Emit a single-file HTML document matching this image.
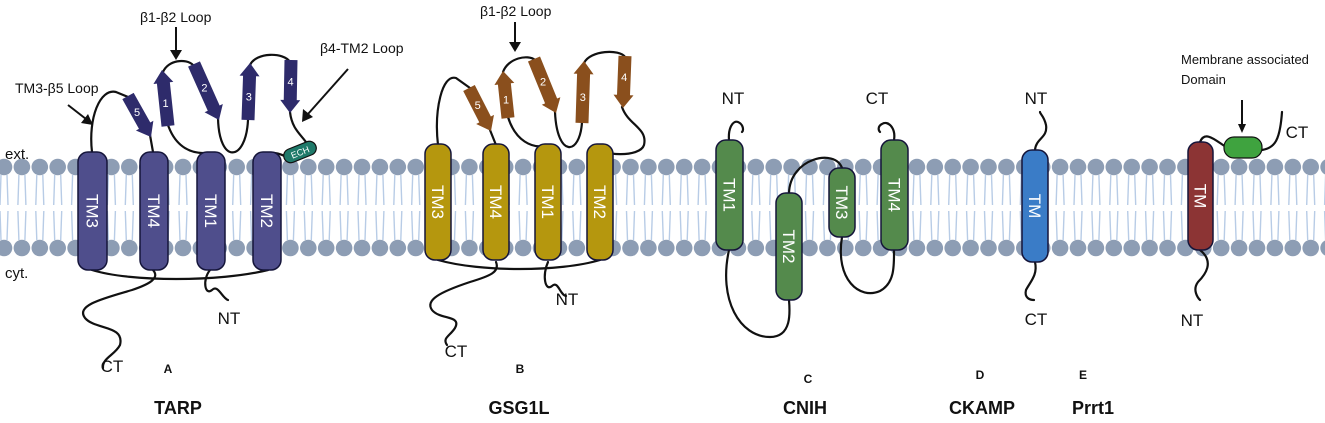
<!DOCTYPE html>
<html><head><meta charset="utf-8"><style>
html,body{margin:0;padding:0;background:#fff;}
svg{display:block;font-family:"Liberation Sans",sans-serif;}
</style></head><body>
<svg id="s" width="1325" height="423" viewBox="0 0 1325 423" xmlns="http://www.w3.org/2000/svg">
<g id="mem"></g>
<g fill="none" stroke="#111" stroke-width="2.2" stroke-linecap="round">
<path d="M92,152 C88,118 100,88 116,92 L128,97"/>
<path d="M150,135 L153,152"/>
<path d="M168,125 C176,148 192,154 208,153"/>
<path d="M163,72 C168,60 186,58 193,65"/>
<path d="M218,118 C219,165 246,162 248,120"/>
<path d="M250,65 C256,52 284,52 290,62"/>
<path d="M290,112 C292,130 302,135 308,145"/>
<path d="M268,153 C274,152 282,154 288,158"/>
<path d="M92,270 C130,282 220,282 268,270"/>
<path d="M153,270 C160,278 150,284 132,290 C105,298 75,305 85,318 C95,330 125,325 120,345 C115,355 102,358 103,368"/>
<path d="M210,270 C202,280 205,296 212,290 C218,284 222,298 228,300"/>
<path d="M438,145 C434,110 442,74 456,78 L470,88"/>
<path d="M490,130 L496,145"/>
<path d="M508,117 C515,140 532,150 548,145"/>
<path d="M503,72 C508,58 528,54 535,60"/>
<path d="M555,112 C557,158 580,156 582,122"/>
<path d="M584,63 C590,50 620,49 625,57"/>
<path d="M622,107 C628,125 648,128 644,145 C640,158 600,156 596,146"/>
<path d="M438,260 C480,272 560,272 600,260"/>
<path d="M496,262 C500,272 490,276 470,282 C440,292 425,300 432,310 C440,320 462,315 455,328 C450,336 442,338 447,345"/>
<path d="M548,262 C542,275 545,292 552,286 C558,280 560,295 566,296"/>
<path d="M729,140 C728,128 733,120 738,122 C743,124 744,130 742,132"/>
<path d="M729,250 C718,300 740,337 770,337 C792,337 790,312 789,300"/>
<path d="M789,193 C790,158 835,148 842,168"/>
<path d="M842,237 C835,280 860,300 880,291 C895,283 894,265 894,250"/>
<path d="M894,140 C896,128 888,120 882,124 C878,126 878,130 880,132"/>
<path d="M1035,150 C1036,138 1048,138 1046,125 C1044,116 1040,114 1040,112"/>
<path d="M1035,262 C1038,275 1030,282 1026,290 C1024,298 1030,300 1034,300"/>
<path d="M1200,142 C1205,130 1215,140 1226,147"/>
<path d="M1262,150 C1275,148 1280,140 1282,112"/>
<path d="M1200,250 C1215,262 1205,275 1198,282 C1192,290 1198,298 1200,300"/>
</g>
<g id="strands"></g>
<g transform="translate(300,152) rotate(-22)"><rect x="-17" y="-7" width="34" height="14" rx="7" fill="#1f7a6a" stroke="#111" stroke-width="1.2"/><text x="0" y="3.5" font-size="9" fill="#fff" text-anchor="middle">ECH</text></g>
<g id="hel" stroke="#15153a" stroke-width="1.5"></g>
<rect x="1224" y="137" width="38" height="21" rx="10" fill="#3fa33f" stroke="#111" stroke-width="1.2"/>
<g stroke="#111" stroke-width="2" fill="#111">
<line x1="176" y1="27" x2="176" y2="52"/><polygon points="170,50 182,50 176,60" stroke="none"/>
<line x1="348" y1="69" x2="308" y2="114"/><polygon points="302,122 303,109 313,117" stroke="none"/>
<line x1="68" y1="105" x2="86" y2="119"/><polygon points="93,125 81,123 88,114" stroke="none"/>
<line x1="515" y1="22" x2="515" y2="44"/><polygon points="509,42 521,42 515,52" stroke="none"/>
<line x1="1242" y1="100" x2="1242" y2="126"/><polygon points="1238,124 1246,124 1242,133" stroke="none"/>
</g>
<g font-size="14" fill="#111">
<text x="140" y="22">β1-β2 Loop</text>
<text x="320" y="53">β4-TM2 Loop</text>
<text x="15" y="93">TM3-β5 Loop</text>
<text x="480" y="16">β1-β2 Loop</text>
<text x="1181" y="64" font-size="13">Membrane associated</text>
<text x="1181" y="84" font-size="13">Domain</text>
<text x="5" y="159" font-size="15">ext.</text>
<text x="5" y="278" font-size="15">cyt.</text>
</g>
<g font-size="17" fill="#111" text-anchor="middle">
<text x="112" y="372">CT</text><text x="229" y="324">NT</text>
<text x="456" y="357">CT</text><text x="567" y="305">NT</text>
<text x="733" y="104">NT</text><text x="877" y="104">CT</text>
<text x="1036" y="104">NT</text><text x="1036" y="325">CT</text>
<text x="1192" y="326">NT</text><text x="1297" y="138">CT</text>
</g>
<g font-weight="bold" fill="#111" text-anchor="middle">
<text x="168" y="373" font-size="12">A</text>
<text x="520" y="373" font-size="12">B</text>
<text x="808" y="383" font-size="12">C</text>
<text x="980" y="379" font-size="12">D</text>
<text x="1083" y="379" font-size="12">E</text>
<text x="178" y="414" font-size="18">TARP</text>
<text x="519" y="414" font-size="18">GSG1L</text>
<text x="805" y="414" font-size="18">CNIH</text>
<text x="982" y="414" font-size="18">CKAMP</text>
<text x="1093" y="414" font-size="18">Prrt1</text>
</g>
</svg>
<script>
var NS="http://www.w3.org/2000/svg";
function el(p,t,a,txt){var e=document.createElementNS(NS,t);for(var k in a)e.setAttribute(k,a[k]);if(txt)e.textContent=txt;p.appendChild(e);return e;}
var mem=document.getElementById("mem");
for(var x=4;x<1330;x+=17.9){
 [[175,205],[240,211]].forEach(function(r){
  el(mem,"path",{d:"M"+(x-3)+","+r[0]+" L"+(x-4)+","+r[1]+" M"+(x+3)+","+r[0]+" L"+(x+4)+","+r[1],fill:"none",stroke:"#b8cce6","stroke-width":1.4});
 });
 el(mem,"circle",{cx:x,cy:167,r:8.3,fill:"#8d9db4"});
 el(mem,"circle",{cx:x,cy:248,r:8.3,fill:"#8d9db4"});
}
var hel=document.getElementById("hel");
function H(x1,x2,y1,y2,c,t){
 el(hel,"rect",{x:x1,y:y1,width:x2-x1,height:y2-y1,rx:10,fill:c});
 var cx=(x1+x2)/2,cy=(y1+y2)/2;
 el(hel,"text",{x:0,y:0,"font-size":17,fill:"#fff",stroke:"none","text-anchor":"middle",transform:"translate("+(cx-6)+","+cy+") rotate(90)"},t);
}
var P="#4f4e8c",G="#b5970e",N="#548a4c",B="#3a7cc7",R="#8c3434";
H(78,107,152,270,P,"TM3");H(140,168,152,270,P,"TM4");H(197,225,152,270,P,"TM1");H(253,281,152,270,P,"TM2");
H(425,451,144,260,G,"TM3");H(483,509,144,260,G,"TM4");H(535,561,144,260,G,"TM1");H(587,613,144,260,G,"TM2");
H(716,743,140,250,N,"TM1");H(776,802,193,300,N,"TM2");H(829,855,168,237,N,"TM3");H(881,908,140,250,N,"TM4");
H(1022,1048,150,262,B,"TM");
H(1188,1213,142,250,R,"TM");
var st=document.getElementById("strands");
function S(x1,y1,x2,y2,c,n){
 var dx=x2-x1,dy=y2-y1,L=Math.sqrt(dx*dx+dy*dy),a=Math.atan2(dy,dx)*180/Math.PI;
 var g=el(st,"g",{transform:"translate("+x1+","+y1+") rotate("+a+")"});
 el(g,"polygon",{points:"0,-6.5 "+(L-13)+",-6.5 "+(L-13)+",-10 "+L+",0 "+(L-13)+",10 "+(L-13)+",6.5 0,6.5",fill:c});
 var f=(L-10)/2/L, mx=x1+dx*f, my=y1+dy*f;
 el(st,"text",{x:mx,y:my+4,"font-size":11,fill:"#fff","text-anchor":"middle"},n);
}
var T="#2e2b6b",Br="#8a4f1d";
S(128,96,151,137,T,"5");S(168,126,162,70,T,"1");S(194,64,219,120,T,"2");S(248,120,250,63,T,"3");S(291,60,290,113,T,"4");
S(469,88,491,131,Br,"5");S(508,118,503,71,Br,"1");S(534,59,556,113,Br,"2");S(582,123,584,61,Br,"3");S(625,56,623,108,Br,"4");
</script>
</body></html>
